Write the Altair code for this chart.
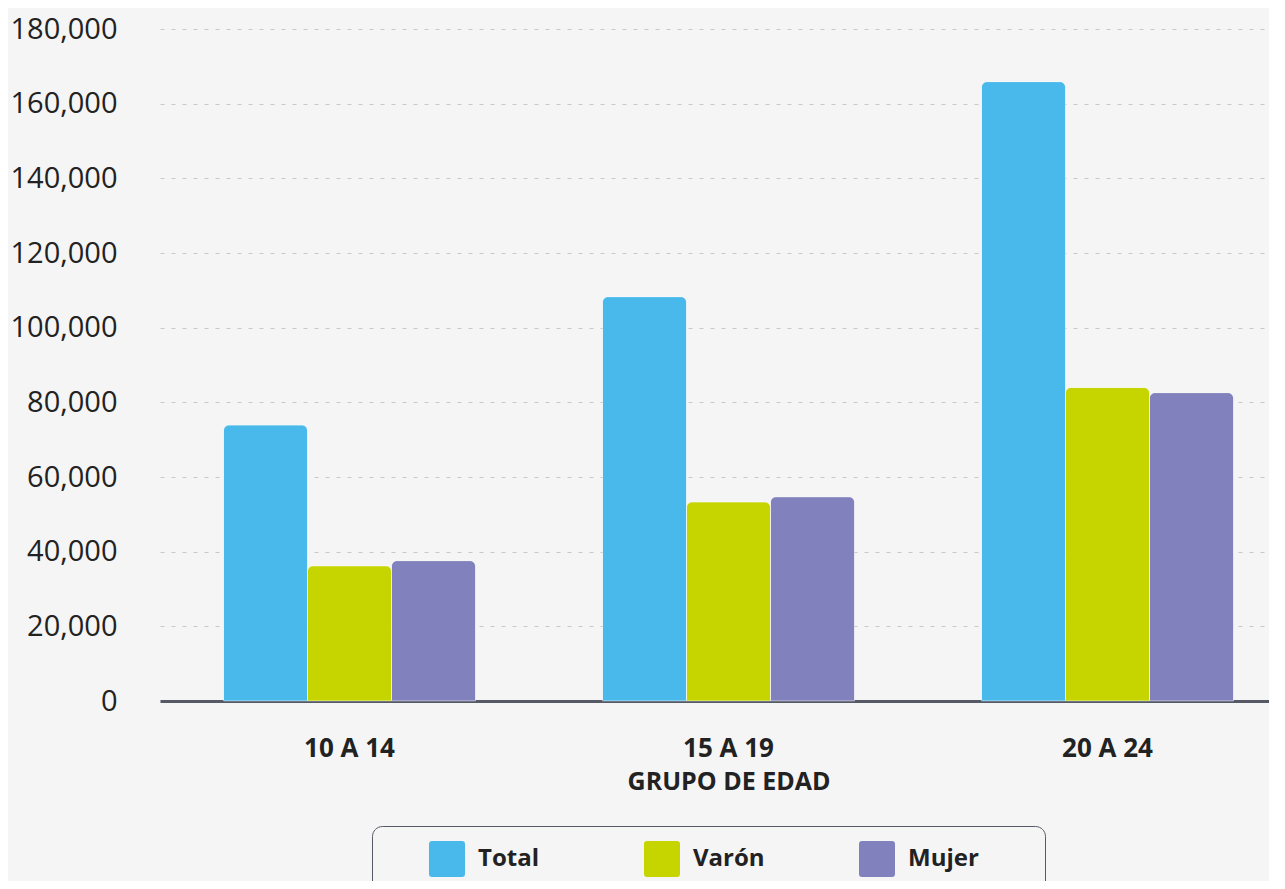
import altair as alt
import pandas as pd

groups = ["10 A 14", "15 A 19", "20 A 24"]
series = ["Total", "Varón", "Mujer"]
total = [73900, 108300, 165900]
varon = [36200, 53300, 84000]
mujer = [37600, 54700, 82600]
colors = ["#48B9EA", "#C6D400", "#8181BD"]
y_ticks = [0, 20000, 40000, 60000, 80000, 100000, 120000, 140000, 160000, 180000]

rows = []
for i, g in enumerate(groups):
    for s, vals in zip(series, [total, varon, mujer]):
        rows.append({"grupo": g, "serie": s, "valor": vals[i]})
df = pd.DataFrame(rows)

rounded_square = (
    "M -0.83 -1 L 0.83 -1 Q 1 -1 1 -0.83 L 1 0.83 Q 1 1 0.83 1 "
    "L -0.83 1 Q -1 1 -1 0.83 L -1 -0.83 Q -1 -1 -0.83 -1 Z"
)

FONT = "Open Sans"

chart = alt.Chart(df).mark_bar(
    cornerRadiusTopLeft=6, cornerRadiusTopRight=6,
    stroke="#ffffff", strokeWidth=1, strokeOpacity=0.35
).encode(
    x=alt.X(
        "grupo:N", sort=groups,
        scale=alt.Scale(range=[0, 1137], paddingInner=0.335, paddingOuter=0.1675),
        axis=alt.Axis(
            title="GRUPO DE EDAD", labelAngle=0, ticks=False, grid=False,
            domainColor="#555A66", domainWidth=3,
            labelFont=FONT, labelFontSize=26, labelFontWeight="bold", labelColor="#222222",
            labelPadding=34,
            titleFont=FONT, titleFontSize=25, titleFontWeight="bold", titleColor="#222222",
            titlePadding=8, titleX=568.5,
        ),
    ),
    xOffset=alt.XOffset("serie:N", sort=series, scale=alt.Scale(paddingInner=0, paddingOuter=0)),
    y=alt.Y(
        "valor:Q",
        scale=alt.Scale(domain=[0, 180000], nice=False),
        axis=alt.Axis(
            title=None, values=y_ticks, format=",.0f", domain=False, ticks=False,
            labelPadding=43, labelFont=FONT, labelFontSize=29, labelColor="#222222",
            gridColor="#C8C8C8", gridDash=[4, 7], gridWidth=1,
        ),
    ),
    color=alt.Color(
        "serie:N", sort=series,
        scale=alt.Scale(domain=series, range=colors),
        legend=alt.Legend(
            title=" ", titleOrient="right", titlePadding=51, titleFontSize=11,
            orient="none", legendX=212, legendY=797,
            direction="horizontal", columns=3, gridAlign="all", columnPadding=52,
            padding=15, strokeColor="#555A66", cornerRadius=10, fillColor="#F5F5F5",
            symbolType=rounded_square, symbolSize=1296, symbolStrokeWidth=0, symbolOpacity=1,
            symbolOffset=42,
            labelFont=FONT, labelFontSize=24, labelFontWeight="bold", labelColor="#222222",
            labelOffset=13, labelLimit=400,
        ),
    ),
).properties(
    width=1109, height=672,
    autosize=alt.AutoSizeParams(type="none"),
    padding={"left": 152, "top": 21, "right": 0, "bottom": 180},
    background="#F5F5F5",
).configure_view(stroke=None)

chart.save("out.html", embed_options={"renderer": "svg", "actions": False})
